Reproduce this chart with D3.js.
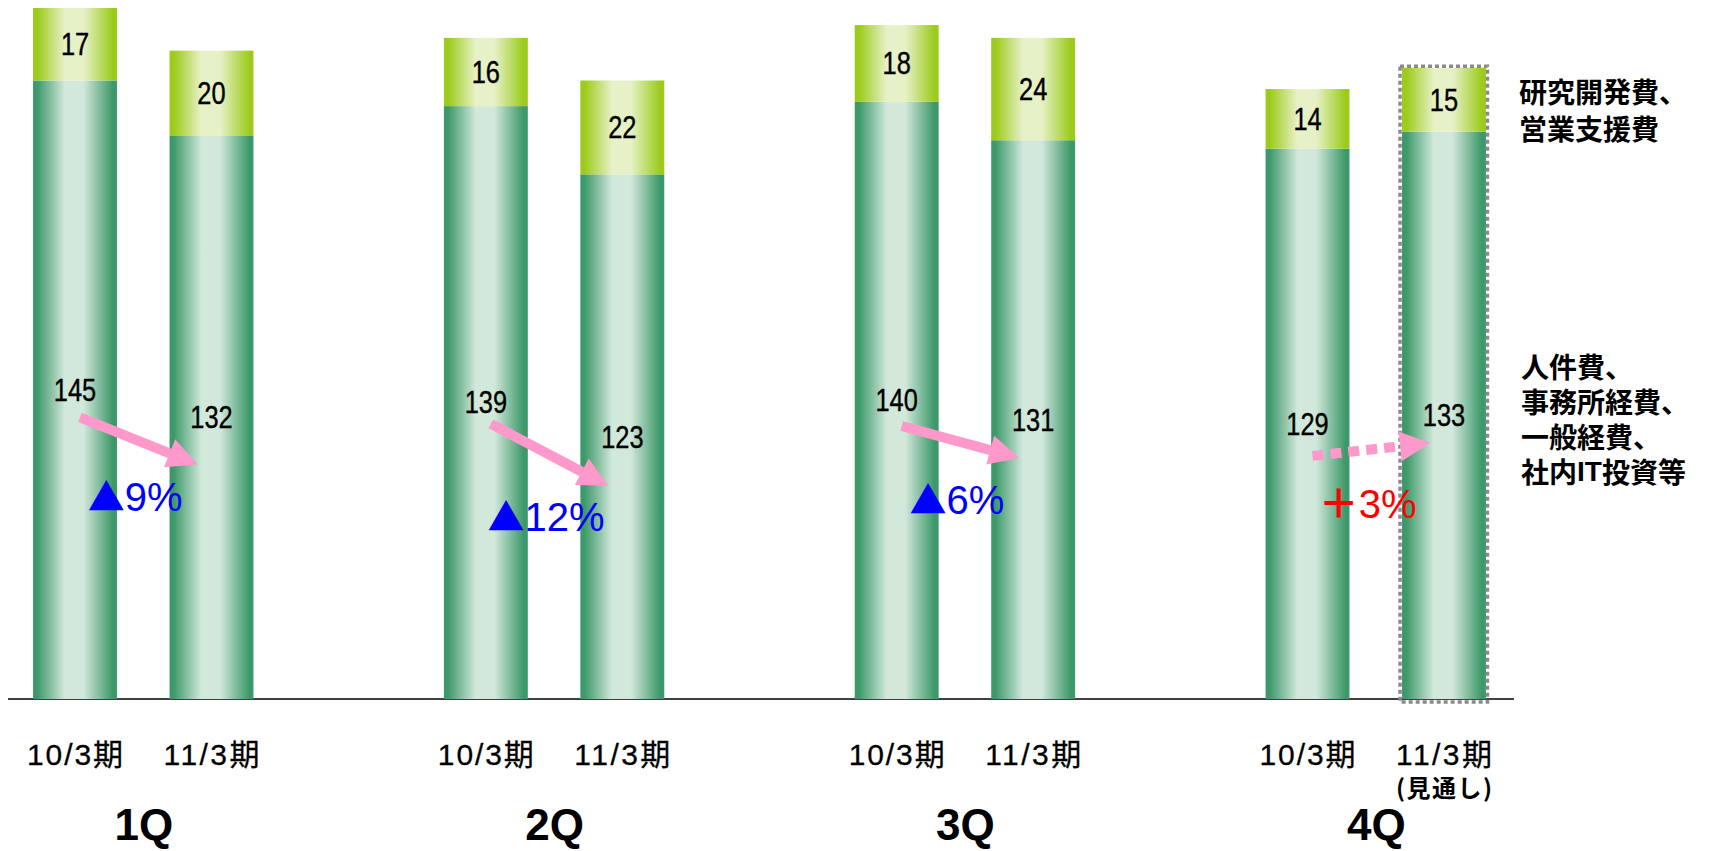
<!DOCTYPE html>
<html>
<head>
<meta charset="utf-8">
<script src="https://cdn.jsdelivr.net/npm/d3@7"></script>
<style>
  html, body { margin: 0; padding: 0; background: #fff; }
  svg { display: block; }
</style>
</head>
<body>
<svg id="chart" width="1710" height="851"></svg>
<script>
// ---------------- data ----------------
const quarters = ['1Q', '2Q', '3Q', '4Q'];
const periods = ['10/3期', '11/3期'];
// lower segment: 人件費、事務所経費、一般経費、社内IT投資等
const baseCost = [[145, 132], [139, 123], [140, 131], [129, 133]];
// upper segment: 研究開発費、営業支援費
const rdCost = [[17, 20], [16, 22], [18, 24], [14, 15]];
const changeLabels = ['▲9%', '▲12%', '▲6%', '＋3%'];
// arrow end heights (value units)
const arrowFromValue = [66, 64.5, 64, 57];
const arrowToValue = [55, 50, 56.5, 60];
const forecastQuarter = '4Q';
const forecastPeriod = '11/3期';
const forecastNote = '(見通し)';
const legendUpper = ['研究開発費、', '営業支援費'];
const legendLower = ['人件費、', '事務所経費、', '一般経費、', '社内IT投資等'];

// ---------------- layout ----------------
const svg = d3.select('#chart');
const baselineY = 699;
const y = d3.scaleLinear().domain([0, 162]).range([baselineY, 8]);
const xQ = d3.scalePoint().domain(quarters).range([143.25, 1375.75]);
const xP = d3.scaleBand().domain(periods).range([-162.75, 162.75])
  .paddingInner(0.385).paddingOuter(0.385);
const bw = xP.bandwidth();

const NUM_FONT = '"Liberation Sans", Arial, "Noto Sans CJK JP", sans-serif';
const CJK_FONT = '"Noto Sans CJK JP", "Liberation Sans", sans-serif';

// gradients
const defs = svg.append('defs');
function grad(id, edge, mid) {
  const g = defs.append('linearGradient').attr('id', id)
    .attr('x1', 0).attr('x2', 1).attr('y1', 0).attr('y2', 0);
  [[0, edge], [0.05, edge], [0.38, mid], [0.6, mid], [0.95, edge], [1, edge]]
    .forEach(([o, c]) => g.append('stop').attr('offset', o).attr('stop-color', c));
}
grad('gBase', '#3d996a', '#d2e8db');
grad('gTop', '#9ccb1c', '#e7f1c8');

// flat records
const rows = [];
quarters.forEach((q, qi) => periods.forEach((p, pi) => {
  rows.push({ q, qi, p, pi, base: baseCost[qi][pi], top: rdCost[qi][pi] });
}));
const bx = d => xQ(d.q) + xP(d.p);
const bc = d => bx(d) + bw / 2;

// baseline
svg.append('line').attr('x1', 8).attr('x2', 1514)
  .attr('y1', baselineY).attr('y2', baselineY)
  .attr('stroke', '#000').attr('stroke-width', 1.5);

// bars
svg.append('g').selectAll('rect').data(rows).join('rect')
  .attr('x', bx).attr('width', bw)
  .attr('y', d => y(d.base)).attr('height', d => y(0) - y(d.base))
  .attr('fill', 'url(#gBase)');
svg.append('g').selectAll('rect').data(rows).join('rect')
  .attr('x', bx).attr('width', bw)
  .attr('y', d => y(d.base + d.top)).attr('height', d => y(d.base) - y(d.base + d.top))
  .attr('fill', 'url(#gTop)');

// forecast dotted box
const fc = rows.find(d => d.q === forecastQuarter && d.p === forecastPeriod);
svg.append('rect')
  .attr('x', bx(fc) - 2).attr('width', bw + 3.5)
  .attr('y', y(fc.base + fc.top) - 1.5)
  .attr('height', baselineY + 3 - (y(fc.base + fc.top) - 1.5))
  .attr('fill', 'none').attr('stroke', '#8a8a8a')
  .attr('stroke-width', 3.5).attr('stroke-dasharray', '4,3');

// value labels
function valueLabels(cy, val) {
  svg.append('g').selectAll('text').data(rows).join('text')
    .attr('transform', d => `translate(${bc(d)},${cy(d)}) scale(0.82,1)`)
    .attr('text-anchor', 'middle').attr('dominant-baseline', 'central')
    .attr('font-family', NUM_FONT).attr('font-size', 31).attr('fill', '#000')
    .attr('stroke', '#000').attr('stroke-width', 0.4)
    .text(val);
}
valueLabels(d => (y(0) + y(d.base)) / 2, d => d.base);
valueLabels(d => (y(d.base) + y(d.base + d.top)) / 2, d => d.top);

// arrows + change labels
const arrowG = svg.append('g');
quarters.forEach((q, qi) => {
  const c1 = xQ(q) + xP(periods[0]) + bw / 2;
  const c2 = xQ(q) + xP(periods[1]) + bw / 2;
  const x1 = c1 + 5, x2 = c2 - 14;
  const y1 = y(arrowFromValue[qi]);
  const y2 = y(arrowToValue[qi]);
  const dx = x2 - x1, dy = y2 - y1, L = Math.hypot(dx, dy);
  const ux = dx / L, uy = dy / L, nx = -uy, ny = ux;
  const headL = 30, headW = 15, shaftW = 10;
  const hbx = x2 - ux * headL, hby = y2 - uy * headL;
  const lbl = changeLabels[qi];
  const up = lbl.startsWith('＋');
  const color = '#ff99cc';
  if (up) {
    arrowG.append('line').attr('x1', x1).attr('y1', y1)
      .attr('x2', hbx).attr('y2', hby)
      .attr('stroke', color).attr('stroke-width', shaftW)
      .attr('stroke-dasharray', '11,7');
  } else {
    const s = shaftW / 2;
    arrowG.append('path').attr('fill', color).attr('d',
      `M${x1 + nx * s},${y1 + ny * s}L${hbx + nx * s},${hby + ny * s}` +
      `L${hbx - nx * s},${hby - ny * s}L${x1 - nx * s},${y1 - ny * s}Z`);
  }
  arrowG.append('path').attr('fill', color).attr('d',
    `M${x2},${y2}L${hbx + nx * headW},${hby + ny * headW}` +
    `L${hbx - nx * headW},${hby - ny * headW}Z`);

  const labelY = Math.max(y(baseCost[qi][0] / 2), y(baseCost[qi][1] / 2)) + 94;
  const t = svg.append('text')
    .attr('x', xQ(q) - 8).attr('y', labelY)
    .attr('text-anchor', 'middle')
    .attr('font-family', NUM_FONT).attr('font-size', 40)
    .attr('fill', up ? '#ff0000' : '#0000ff');
  t.append('tspan').attr('font-family', CJK_FONT)
    .attr('font-weight', up ? 700 : 400)
    .attr('font-size', up ? 40 : 37).text(lbl[0]);
  t.append('tspan').text(lbl.slice(1));
});

// period axis (one per quarter)
quarters.forEach(q => {
  const g = svg.append('g')
    .attr('transform', `translate(${xQ(q)},${baselineY})`)
    .call(d3.axisBottom(xP).tickSize(0).tickPadding(45));
  g.select('.domain').remove();
  g.selectAll('.tick text').attr('font-family', NUM_FONT).attr('font-size', 30)
    .attr('fill', '#000').attr('stroke', '#000').attr('stroke-width', 0.3)
    .attr('textLength', 96).attr('lengthAdjust', 'spacing');
  if (q === forecastQuarter) {
    g.append('text')
      .attr('x', xP(forecastPeriod) + bw / 2).attr('y', 87)
      .attr('text-anchor', 'middle').attr('dominant-baseline', 'central')
      .attr('font-family', CJK_FONT).attr('font-weight', 700)
      .attr('font-size', 24).attr('fill', '#000')
      .attr('textLength', 96).attr('lengthAdjust', 'spacing')
      .text(forecastNote);
  }
});

// quarter axis
const qa = svg.append('g').attr('transform', `translate(0,${baselineY})`)
  .call(d3.axisBottom(xQ).tickSize(0).tickPadding(110));
qa.select('.domain').remove();
qa.selectAll('.tick text').attr('font-family', NUM_FONT).attr('font-size', 44)
  .attr('font-weight', 700).attr('fill', '#000');

// legends: one text element per block, one tspan line per entry
function legend(lines, x, cy, gap) {
  const top = cy - gap * (lines.length - 1) / 2;
  const t = svg.append('text')
    .attr('x', x).attr('y', top)
    .attr('dominant-baseline', 'central')
    .attr('font-family', CJK_FONT).attr('font-weight', 700)
    .attr('font-size', 28).attr('fill', '#000');
  lines.forEach((s, i) => {
    s.split(/([A-Za-z]+)/).filter(p => p).forEach((p, j) => {
      const ts = t.append('tspan').text(p);
      if (j === 0) ts.attr('x', x).attr('y', top + i * gap);
      if (/^[A-Za-z]+$/.test(p)) ts.attr('font-family', NUM_FONT);
    });
  });
}
legend(legendUpper, 1519, 109, 37);
legend(legendLower, 1521, 418.5, 35);
</script>
</body>
</html>
